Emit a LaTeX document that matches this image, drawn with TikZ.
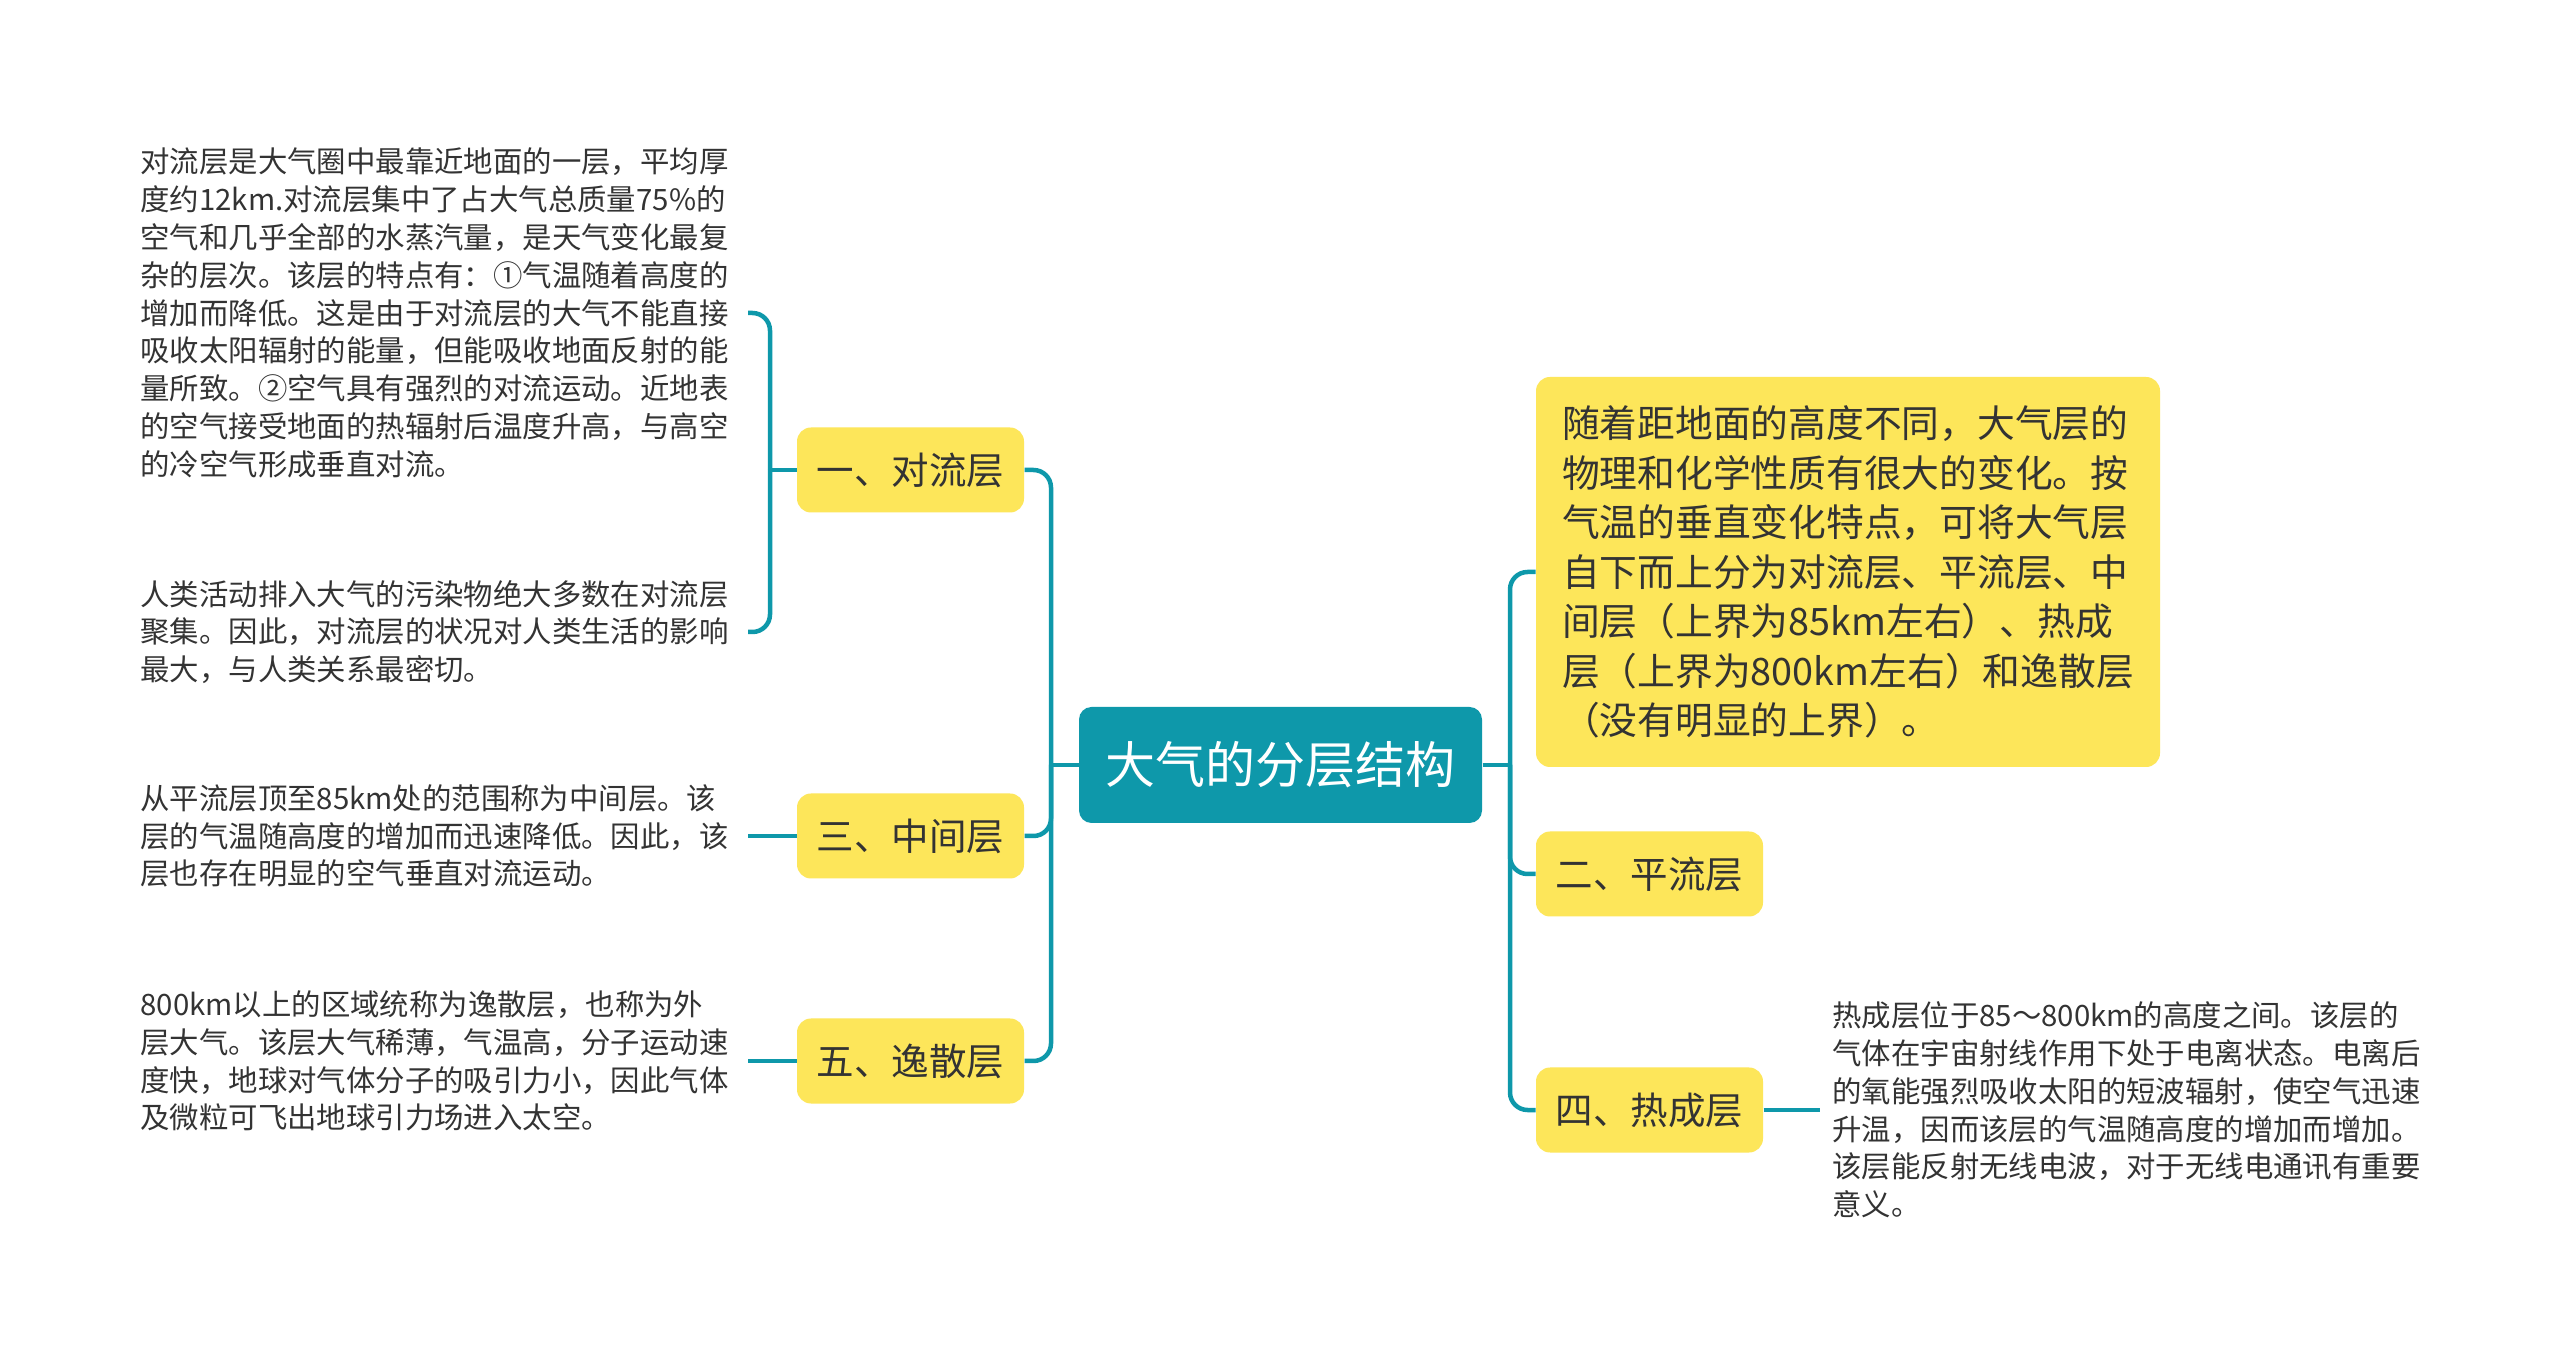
\documentclass[tikz,border=0pt]{standalone}
\usepackage{fontspec}
\setmainfont{Noto Sans CJK SC}
\definecolor{tealc}{HTML}{0E98AA}
\definecolor{yel}{HTML}{FDE65A}
\definecolor{txt}{HTML}{333333}
\tikzset{
  conn/.style={draw=tealc, line width=1.8pt, rounded corners=7pt},
  lvl/.style={fill=yel, rounded corners=5.6pt, minimum width=90.8pt, minimum height=34pt, inner sep=0pt, text=txt, font=\fontsize{15pt}{18pt}\selectfont},
  desc/.style={align=left, text width=238pt, inner xsep=4.8pt, inner ysep=0pt, text=txt, font=\fontsize{11.76pt}{15.12pt}\selectfont},
  rootbox/.style={fill=tealc, text=white, rounded corners=5pt, minimum width=161.2pt, minimum height=46.4pt, inner sep=0pt, font=\fontsize{20pt}{24pt}\selectfont},
  bigbox/.style={fill=yel, rounded corners=5.6pt, minimum width=249.6pt, minimum height=156pt, inner sep=0pt, align=left, text=txt, font=\fontsize{15.1pt}{19.8pt}\selectfont}
}
\begin{document}
\begin{tikzpicture}[x=0.4pt, y=-0.4pt]
\path[use as bounding box, fill=white] (0,0) rectangle (2560,1363);

% root
\node[rootbox] (c) at (1280.5,765) {大气的分层结构};

% left level-1
\node[lvl] (n1) at (910.5,470) {一、对流层};
\node[lvl] (n3) at (910.5,836) {三、中间层};
\node[lvl] (n5) at (910.5,1061) {五、逸散层};

% right level-1
\node[bigbox] (big) at (1848,572) {随着距地面的高度不同，大气层的\\物理和化学性质有很大的变化。按\\气温的垂直变化特点，可将大气层\\自下而上分为对流层、平流层、中\\间层（上界为85km左右）、热成\\层（上界为800km左右）和逸散层\\（没有明显的上界）。};
\node[lvl] (n2) at (1649.5,874) {二、平流层};
\node[lvl] (n4) at (1649.5,1110) {四、热成层};

% descriptions
\node[desc, anchor=west] (t1) at (128,313) {对流层是大气圈中最靠近地面的一层，平均厚\\度约12km.对流层集中了占大气总质量75\%的\\空气和几乎全部的水蒸汽量，是天气变化最复\\杂的层次。该层的特点有：①气温随着高度的\\增加而降低。这是由于对流层的大气不能直接\\吸收太阳辐射的能量，但能吸收地面反射的能\\量所致。②空气具有强烈的对流运动。近地表\\的空气接受地面的热辐射后温度升高，与高空\\的冷空气形成垂直对流。};
\node[desc, anchor=west] (t2) at (128,632) {人类活动排入大气的污染物绝大多数在对流层\\聚集。因此，对流层的状况对人类生活的影响\\最大，与人类关系最密切。};
\node[desc, anchor=west] (t3) at (128,836) {从平流层顶至85km处的范围称为中间层。该\\层的气温随高度的增加而迅速降低。因此，该\\层也存在明显的空气垂直对流运动。};
\node[desc, anchor=west] (t4) at (128,1061) {800km以上的区域统称为逸散层，也称为外\\层大气。该层大气稀薄，气温高，分子运动速\\度快，地球对气体分子的吸引力小，因此气体\\及微粒可飞出地球引力场进入太空。};
\node[desc, anchor=west] (t5) at (1820,1110) {热成层位于85～800km的高度之间。该层的\\气体在宇宙射线作用下处于电离状态。电离后\\的氧能强烈吸收太阳的短波辐射，使空气迅速\\升温，因而该层的气温随高度的增加而增加。\\该层能反射无线电波，对于无线电通讯有重要\\意义。};

% junctions
\coordinate (jL) at (1051,765);
\coordinate (jR) at (1510,765);
\coordinate (b1) at (770,470);

% connectors
\draw[conn] (c.west) -- (jL);
\draw[conn] (jL) |- (n1.east);
\draw[conn] (jL) |- (n3.east);
\draw[conn] (jL) |- (n5.east);
\draw[conn] (c.east) -- (jR);
\draw[conn] (jR) |- (big.west);
\draw[conn] (jR) |- (n2.west);
\draw[conn] (jR) |- (n4.west);
\draw[conn] (n1.west) -- (b1);
\draw[conn] (b1) |- (t1.east);
\draw[conn] (b1) |- (t2.east);
\draw[conn] (n3.west) -- (t3.east);
\draw[conn] (n5.west) -- (t4.east);
\draw[conn] (n4.east) -- (t5.west);
\end{tikzpicture}
\end{document}
